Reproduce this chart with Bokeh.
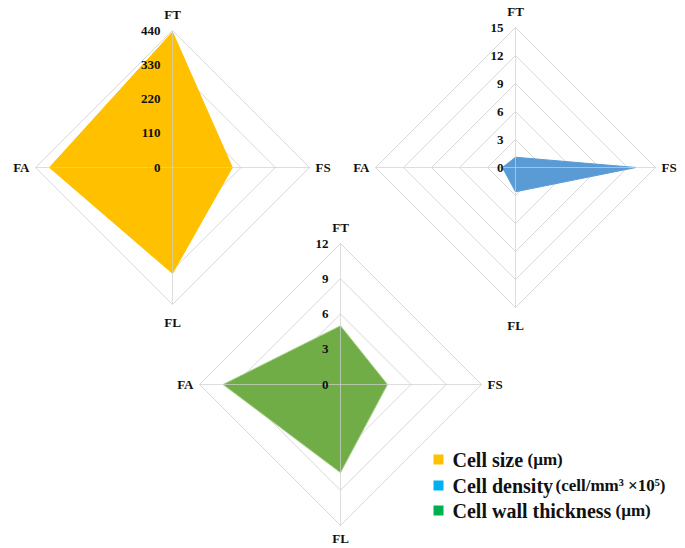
from bokeh.plotting import figure
from bokeh.models import Range1d
from bokeh.embed import file_html
from bokeh.resources import INLINE
from bokeh.core.properties import value

# ---- data ----
categories = ["FT", "FS", "FL", "FA"]
cell_size = [435, 192, 340, 395]          # µm
cell_density = [1.1, 12.9, 2.6, 1.4]      # cell/mm3 x10^5
wall_thickness = [5.0, 4.0, 7.5, 10.0]    # µm
size_ticks = [0, 110, 220, 330, 440]
density_ticks = [0, 3, 6, 9, 12, 15]
wall_ticks = [0, 3, 6, 9, 12]
legend_names = ["Cell size", "Cell density", "Cell wall thickness"]
legend_units = ["(µm)", "(cell/mm³ ×10⁵)", "(µm)"]

# ---- layout / style ----
W, H = 685, 548
OX, OY = 0, 0
FONT = value("Liberation Serif")
GRID = "#D9D9D9"
dirs = {"FT": (0, 1), "FS": (1, 0), "FL": (0, -1), "FA": (-1, 0)}

p = figure(width=W, height=H, output_backend="svg", toolbar_location=None,
           x_range=Range1d(OX, OX + W), y_range=Range1d(OY + H, OY),
           x_axis_type=None, y_axis_type=None, min_border=0)
p.outline_line_color = None
p.grid.visible = False
p.background_fill_color = "white"


def radar(name, vals, ticks, cx, cy, R, fill, line, fl_off=18):
    vmax = ticks[-1]
    upp = vmax / R  # data units per pixel
    xr = Range1d(-(cx - OX) * upp, (OX + W - cx) * upp)
    yr = Range1d(-(OY + H - cy) * upp, (cy - OY) * upp)
    p.extra_x_ranges[name + "x"] = xr
    p.extra_y_ranges[name + "y"] = yr
    kw = dict(x_range_name=name + "x", y_range_name=name + "y")
    order = categories + [categories[0]]
    # rings
    for t in ticks[1:]:
        p.line([dirs[c][0] * t for c in order], [dirs[c][1] * t for c in order],
               line_color=GRID, line_width=1, **kw)
    # polygon
    p.patch([dirs[c][0] * v for c, v in zip(categories, vals)],
            [dirs[c][1] * v for c, v in zip(categories, vals)],
            fill_color=fill, line_color=line, line_width=1, **kw)
    # spokes
    for c in categories:
        p.line([0, dirs[c][0] * vmax], [0, dirs[c][1] * vmax],
               line_color="#D0D0D0", line_alpha=0.7, line_width=1, **kw)
    # tick labels
    p.text(x=[0] * len(ticks), y=ticks, text=[str(t) for t in ticks],
           text_font=FONT, text_font_style="bold", text_font_size="13px",
           text_color="#111111", text_align="right", text_baseline="middle",
           x_offset=-12, **kw)
    # category labels
    for c in categories:
        dx, dy = dirs[c]
        if c == "FS":
            al, xo, yo = "left", 6, 0
        elif c == "FA":
            al, xo, yo = "right", -6, 0
        elif c == "FT":
            al, xo, yo = "center", 0, -16
        else:
            al, xo, yo = "center", 0, fl_off
        p.text(x=[dx * vmax], y=[dy * vmax], text=[c], text_font=FONT,
               text_font_style="bold", text_font_size="13px", text_color="#111111",
               text_align=al, text_baseline="middle", x_offset=xo, y_offset=yo, **kw)


radar("s", cell_size, size_ticks, 172, 167, 137, "#FFC000", "#FFC000")
radar("d", cell_density, density_ticks, 515, 167, 140, "#5B9BD5", "#5B9BD5")
radar("w", wall_thickness, wall_ticks, 340, 384, 141, "#70AD47", "#A9D18E", fl_off=13)

# legend
leg_colors = ["#FFC000", "#00B0F0", "#00B050"]
leg_y = [459, 485, 510]
unit_x = [527, 555, 615]
p.scatter(x=[438] * 3, y=leg_y, marker="square", size=10, fill_color=leg_colors,
          line_color=None)
p.text(x=[452] * 3, y=leg_y, text=legend_names, text_font=FONT, text_font_style="bold",
       text_font_size="20px", text_color="#111111", text_baseline="middle")
p.text(x=unit_x, y=leg_y, text=legend_units, text_font=FONT, text_font_style="bold",
       text_font_size="17px", text_color="#111111", text_baseline="middle")

open("out.html", "w").write(file_html(p, INLINE))
